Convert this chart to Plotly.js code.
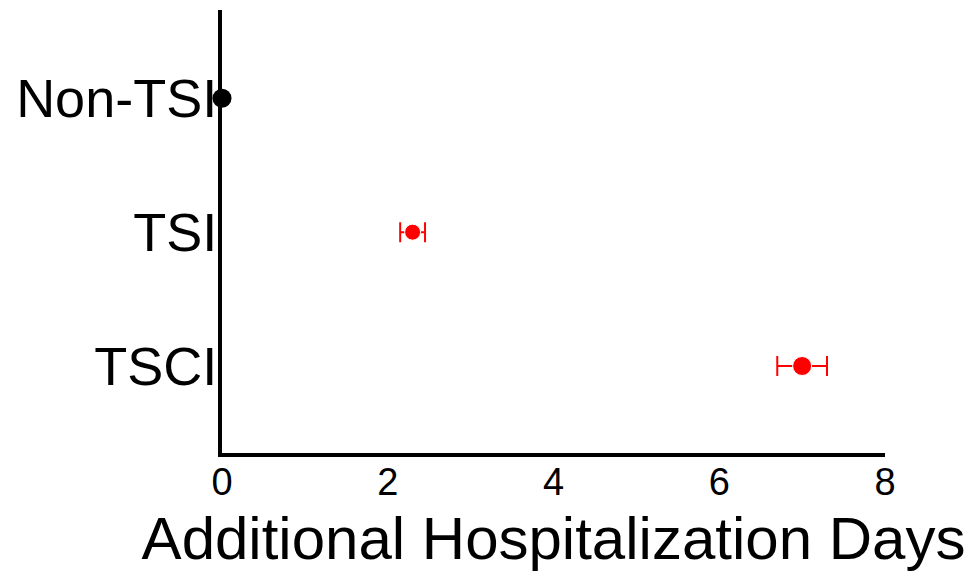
<!DOCTYPE html>
<html>
<head>
<meta charset="utf-8">
<script src="https://cdn.plot.ly/plotly-3.0.1.min.js"></script>
<style>html,body{margin:0;padding:0;background:#fff;}#chart{width:979px;height:583px;}</style>
</head>
<body>
<div id="chart"></div>
<script>
var categories = ["Non-TSI", "TSI", "TSCI"];
var refCategory = ["Non-TSI"];
var refDays = [0];
var injuryCategories = ["TSI", "TSCI"];
var injuryDays = [2.3, 7.0];
var injuryErrLow = [0.15, 0.3];
var injuryErrHigh = [0.15, 0.3];
var xTicks = [0, 2, 4, 6, 8];

var traces = [
  {
    type: "scatter", mode: "markers",
    x: refDays, y: refCategory,
    marker: {color: "#000000", size: 19, opacity: 1},
    cliponaxis: false, showlegend: false
  },
  {
    type: "scatter", mode: "markers",
    x: injuryDays, y: injuryCategories,
    marker: {color: "#ff0000", size: [16, 19], opacity: 1},
    error_x: {type: "data", symmetric: false, array: injuryErrHigh, arrayminus: injuryErrLow,
              color: "#ff0000", thickness: 2, width: 10},
    cliponaxis: false, showlegend: false
  }
];

var layout = {
  width: 979, height: 583,
  margin: {l: 222, r: 94, t: 10, b: 130},
  paper_bgcolor: "#ffffff", plot_bgcolor: "#ffffff",
  showlegend: false,
  xaxis: {
    range: [0, 8], tickvals: xTicks, ticktext: xTicks.map(String),
    showgrid: false, zeroline: false,
    showline: true, linecolor: "#000000", linewidth: 4,
    ticks: "", ticklabelstandoff: -8,
    tickfont: {family: "Liberation Sans Narrow, Arial Narrow, Liberation Sans, Arial, sans-serif", size: 38, color: "#000000"},
    title: {text: "Additional Hospitalization Days", standoff: 16,
            font: {family: "Liberation Sans, Arial, sans-serif", size: 60, color: "#000000"}}
  },
  yaxis: {
    type: "category", categoryorder: "array", categoryarray: categories,
    range: [2.65, -0.66],
    showgrid: false, zeroline: false,
    showline: true, linecolor: "#000000", linewidth: 4,
    ticks: "", ticklabelstandoff: -10,
    tickfont: {family: "Liberation Sans, Arial, sans-serif", size: 54, color: "#000000"}
  }
};

Plotly.newPlot("chart", traces, layout, {displayModeBar: false, staticPlot: true});
</script>
</body>
</html>
